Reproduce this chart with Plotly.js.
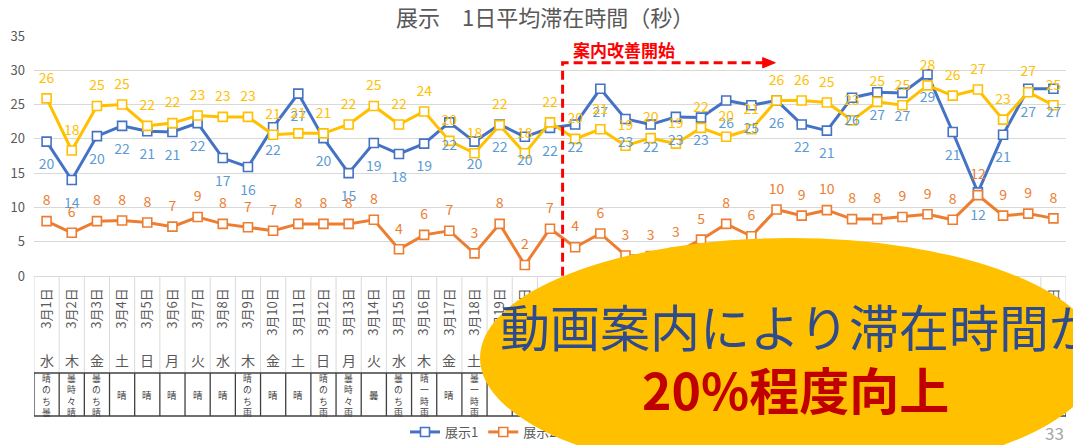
<!DOCTYPE html>
<html>
<head>
<meta charset="utf-8">
<script src="https://cdn.plot.ly/plotly-3.0.1.min.js"></script>
<style>
html,body{margin:0;padding:0;background:#fff;}
#wrap{position:relative;width:1073px;height:445px;}
#chart,#overlay{position:absolute;left:0;top:0;width:1073px;height:445px;}
#overlay{pointer-events:none;}
</style>
</head>
<body>
<div id="wrap"><div id="chart"></div><div id="overlay"></div></div>
<script>
// ---- data ----
const dates = ['3月1日','3月2日','3月3日','3月4日','3月5日','3月6日','3月7日','3月8日','3月9日','3月10日',
  '3月11日','3月12日','3月13日','3月14日','3月15日','3月16日','3月17日','3月18日','3月19日','3月20日',
  '3月21日','3月22日','3月23日','3月24日','3月25日','3月26日','3月27日','3月28日','3月29日','3月30日',
  '3月31日','4月1日','4月2日','4月3日','4月4日','4月5日','4月6日','4月7日','4月8日','4月9日','4月10日'];
const weekdays = ['水','木','金','土','日','月','火','水','木','金',
  '土','日','月','火','水','木','金','土','日','月',
  '火','水','木','金','土','日','月','火','水','木',
  '金','土','日','月','火','水','木','金','土','日','月'];
const weather = ['晴のち曇','曇時々晴','曇のち晴','晴','晴','晴','晴','晴','晴のち雨','晴',
  '晴','晴のち雨','曇時々雨','曇','曇のち雨','晴一時雨','晴','曇一時雨','','',
  '','','','','','','','','','',
  '','','','','','','','','','',''];
const tenji1 = [19.6,14.0,20.4,21.9,21.1,21.0,22.3,17.2,15.9,21.7,
  26.6,20.1,15.0,19.4,17.8,19.3,22.4,19.6,22.1,20.3,
  21.6,22.1,27.3,22.9,22.1,23.2,23.1,25.6,24.9,25.6,
  22.1,21.2,26.0,26.8,26.7,29.4,21.0,12.2,20.6,27.3,27.3];
const tenji2 = [8.0,6.3,8.0,8.1,7.8,7.2,8.6,7.6,7.1,6.6,
  7.6,7.6,7.6,8.2,3.9,6.0,6.6,3.3,7.6,1.6,
  6.9,4.2,6.2,3.0,2.9,3.4,5.3,7.6,5.8,9.7,
  8.8,9.6,8.3,8.3,8.6,9.0,8.2,11.8,8.8,9.1,8.4];
const tenji3 = [25.9,18.3,24.8,25.0,21.9,22.3,23.4,23.2,23.2,20.6,
  20.8,20.8,22.1,24.8,22.1,24.0,19.7,17.9,22.0,17.9,
  22.4,20.0,21.4,19.0,20.1,19.3,21.6,20.3,21.4,25.6,
  25.6,25.3,22.7,25.4,24.9,27.8,26.3,27.2,22.8,26.8,24.9];
const seriesNames = ['展示1','展示2','展示3'];
const title = '展示　1日平均滞在時間（秒）';
const startLabel = '案内改善開始';
const startBoundary = 20.5;   // between 3月21日 and 3月22日
const msg1 = '動画案内により滞在時間が';
const msg2 = '20%程度向上';
const pageNo = '33';

// ---- styles ----
const F = '"Noto Sans CJK JP","Noto Sans",sans-serif';
const G = '#595959';
const lineCols = ['#4472C4','#ED7D31','#FFC000'];
const lblCols = ['#5B9BD5','#ED7D31','#FFC000'];
const series = [tenji1, tenji2, tenji3];

const traces = [];
series.forEach((s,k)=>{
  traces.push({
    type:'scatter', mode:'lines+markers', x:dates, y:s, name:seriesNames[k],
    line:{color:lineCols[k], width:3},
    marker:{symbol:'square', size:9, color:'#ffffff', line:{color:lineCols[k], width:1.6}},
    hoverinfo:'skip'
  });
});
series.forEach((s,k)=>{
  traces.push({
    type:'scatter', mode:'markers+text', x:dates, y:s, showlegend:false,
    text:s.map(v=>String(Math.round(v))),
    textposition: k===0 ? 'bottom center' : 'top center',
    textfont:{family:F, size:14, color:lblCols[k]},
    marker:{size: k===0 ? 26 : 18, color:'rgba(0,0,0,0)', line:{width:0}},
    hoverinfo:'skip', cliponaxis:false
  });
});

const n = dates.length;
const PT = 36, PB = 169, PH = 240;
const py = p => (276 - p) / PH;   // pixel row -> paper y
const shapes = [];
for (let i = 0; i <= n; i++) {
  shapes.push({type:'line', xref:'x', yref:'paper', x0:i-0.5, x1:i-0.5, y0:0, y1:py(373),
    line:{color:'#d9d9d9', width:1}});
  shapes.push({type:'line', xref:'x', yref:'paper', x0:i-0.5, x1:i-0.5, y0:py(373), y1:py(416),
    line:{color:'#404040', width:1.3}});
}
shapes.push({type:'line', xref:'x', yref:'paper', x0:-0.5, x1:n-0.5, y0:py(373), y1:py(373), line:{color:'#404040', width:1.3}});
shapes.push({type:'line', xref:'x', yref:'paper', x0:-0.5, x1:n-0.5, y0:py(416), y1:py(416), line:{color:'#404040', width:1.3}});
// red dashed bracket
shapes.push({type:'path', xref:'x', yref:'y',
  path:`M ${startBoundary},-2 L ${startBoundary},31.1 L 28.55,31.1`,
  line:{color:'#FF0000', width:3, dash:'9px,5px'}});
shapes.push({type:'path', xref:'x', yref:'y',
  path:'M 28.45,31.85 L 28.95,31.1 L 28.45,30.35 Z',
  fillcolor:'#FF0000', line:{color:'#FF0000', width:1}});

const annotations = [];
for (let i = 0; i < n; i++) {
  annotations.push({xref:'x', yref:'paper', x:i, y:py(360), yanchor:'middle', text:weekdays[i], showarrow:false,
    font:{family:F, size:14, color:G}});
  if (weather[i]) {
    const one = weather[i].length === 1;
    annotations.push({xref:'x', yref:'paper', x:i, y:py(395), yanchor:'middle', text:weather[i].split('').join('<br>'),
      showarrow:false, font:{family:F, size: one ? 9.5 : 8.8, color:'#404040'}});
  }
}
annotations.push({xref:'x', yref:'y', x:22.94, y:33.1, yanchor:'middle', text:'<b>'+startLabel+'</b>', showarrow:false,
  font:{family:F, size:17, color:'#FF0000'}});
annotations.push({xref:'paper', yref:'paper', x:1.0, y:py(432), xanchor:'right', yanchor:'middle', text:pageNo, showarrow:false,
  font:{family:F, size:17, color:'#A6A6A6'}});

const layout = {
  width:1073, height:445,
  margin:{l:34, r:7, t:PT, b:PB},
  paper_bgcolor:'#ffffff', plot_bgcolor:'#ffffff',
  font:{family:F, color:G, size:13},
  title:{text:title, x:0.508, xanchor:'center', y:1-18/445, yanchor:'middle', font:{family:F, size:22, color:G}},
  xaxis:{type:'category', range:[-0.5, n-0.5], tickangle:-90, showgrid:false, zeroline:false, automargin:false,
    showline:true, linecolor:'#d9d9d9', ticks:'', tickfont:{family:F, size:13, color:G}, ticklabelstandoff:6, fixedrange:true},
  yaxis:{range:[0,35], dtick:5, showgrid:true, gridcolor:'#d9d9d9', gridwidth:1, zeroline:false, automargin:false,
    ticks:'', tickfont:{family:F, size:13, color:G}, ticklabelstandoff:8, fixedrange:true},
  legend:{orientation:'h', xref:'container', x:405/1073, xanchor:'left', yref:'container', y:1-432/445, yanchor:'middle',
    font:{family:F, size:13, color:G}, bgcolor:'rgba(0,0,0,0)'},
  shapes:shapes, annotations:annotations
};
Plotly.newPlot('chart', traces, layout, {displayModeBar:false, staticPlot:true});

// ---- overlay callout ----
const W = 1073, H = 445;
const ol = {
  width:W, height:H, margin:{l:0,r:0,t:0,b:0},
  paper_bgcolor:'rgba(0,0,0,0)', plot_bgcolor:'rgba(0,0,0,0)',
  xaxis:{visible:false, range:[0,1]}, yaxis:{visible:false, range:[0,1]},
  showlegend:false,
  shapes:[{type:'circle', xref:'paper', yref:'paper', x0:480/W, x1:1100/W, y0:1-478/H, y1:1-238/H,
    fillcolor:'#FFC000', line:{width:0}, layer:'above'}],
  annotations:[
    {xref:'paper', yref:'paper', x:498/W, xanchor:'left', y:1-325/H, yanchor:'middle', text:msg1, showarrow:false,
      font:{family:F, size:50, color:'#2F4B8B'}},
    {xref:'paper', yref:'paper', x:795/W, xanchor:'center', y:1-388/H, yanchor:'middle', text:'<b>'+msg2+'</b>', showarrow:false,
      font:{family:F, size:50, color:'#C00000'}}
  ]
};
Plotly.newPlot('overlay', [], ol, {displayModeBar:false, staticPlot:true});
</script>
</body>
</html>
